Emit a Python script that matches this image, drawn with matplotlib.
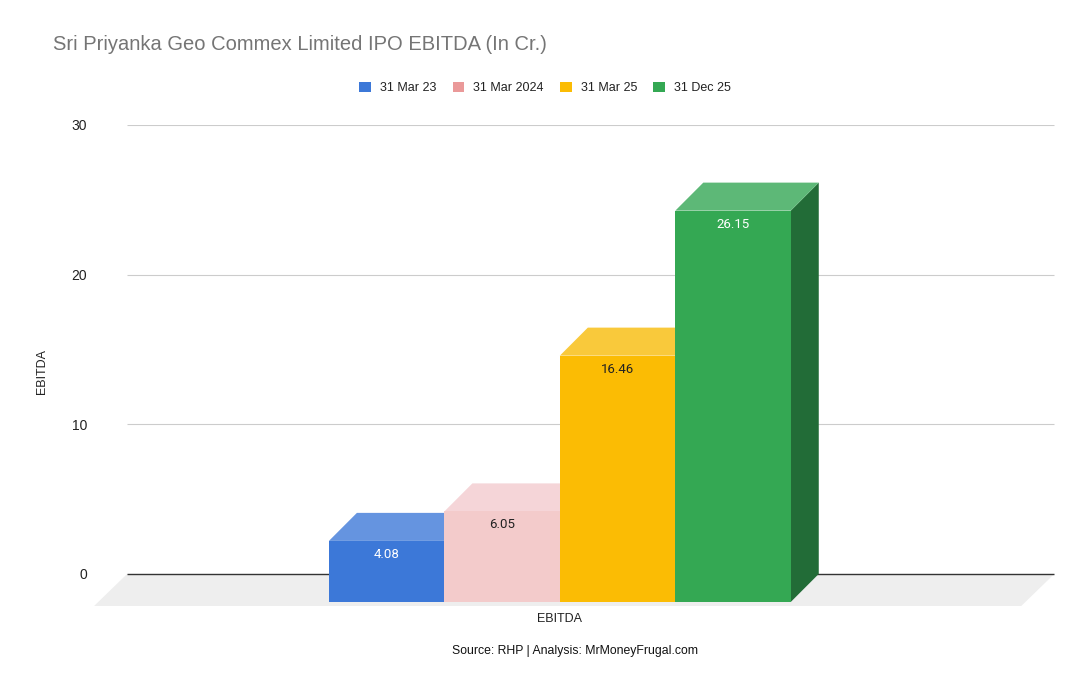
import matplotlib.pyplot as plt
from matplotlib.patches import Polygon, Patch

# data
series = ["31 Mar 23", "31 Mar 2024", "31 Mar 25", "31 Dec 25"]
values = [4.08, 6.05, 16.46, 26.15]
legend_colors = ["#3c78d8", "#ea9999", "#fbbc04", "#34a853"]
front_colors = ["#3c78d8", "#f3cbcb", "#fbbc04", "#34a853"]
top_colors = ["#6594e0", "#f5d5d8", "#f9c93b", "#5db877"]
side_colors = ["#2a5aa8", "#a88e8e", "#c99400", "#226c37"]
label_colors = ["white", "#222222", "#222222", "white"]
yticks = [0, 10, 20, 30]

plt.rcParams["font.family"] = ["Liberation Sans", "DejaVu Sans"]

fig = plt.figure(figsize=(10.9, 6.94), dpi=100)
ax = fig.add_axes([94 / 1090, (694 - 610) / 694, 961 / 1090, 485 / 694])
ax.set_xlim(-2.777, 5.546)
ax.set_ylim(-2.41, 30)

# depth offset (front face relative to back plane)
dx, dy = -0.2424, -1.873
fdx, fdy = -0.286, -2.14
x0, x1 = -2.49, 5.54

# floor
ax.add_patch(Polygon([(x0, 0), (x1, 0), (x1 + fdx, fdy), (x0 + fdx, fdy)],
                     closed=True, facecolor="#eeeeee", edgecolor="none", zorder=1))
ax.hlines([10, 20, 30], x0, x1, color="#cccccc", lw=0.8, zorder=1)
ax.hlines(0, x0, x1, color="#333333", lw=1.0, zorder=2)

for i, v in enumerate(values):
    l, r = i - 0.5, i + 0.5
    # side face
    ax.add_patch(Polygon([(r + dx, dy), (r, 0), (r, v), (r + dx, v + dy)],
                         closed=True, facecolor=side_colors[i], edgecolor="none", zorder=3 + i))
    # top face
    ax.add_patch(Polygon([(l + dx, v + dy), (r + dx, v + dy), (r, v), (l, v)],
                         closed=True, facecolor=top_colors[i], edgecolor="none", zorder=3 + i))
    # front face
    ax.bar(i + dx, v, width=1.0, bottom=dy, color=front_colors[i], zorder=3 + i,
           edgecolor="none")
    ax.text(i + dx, v + dy - 0.9, f"{v:.2f}", ha="center", va="center", fontsize=9.5,
            color=label_colors[i], family=["Roboto", "DejaVu Sans"], zorder=10)

ax.set_yticks(yticks)
ax.set_yticklabels([str(t) for t in yticks], fontsize=10, color="#222222")
ax.tick_params(axis="y", length=0, pad=5)
ax.set_xticks([])
for s in ax.spines.values():
    s.set_visible(False)

fig.text(53 / 1090, 1 - 44 / 694, "Sri Priyanka Geo Commex Limited IPO EBITDA (In Cr.)",
         fontsize=14.5, color="#757575", va="center", ha="left")
fig.text(42 / 1090, 1 - 372 / 694, "EBITDA", rotation=90, fontsize=9, color="#222222",
         va="center", ha="center")
fig.text(560 / 1090, 1 - 619 / 694, "EBITDA", fontsize=9, color="#222222",
         va="center", ha="center")
fig.text(575 / 1090, 1 - 651 / 694, "Source: RHP | Analysis: MrMoneyFrugal.com",
         fontsize=8.8, color="#111111", va="center", ha="center")

handles = [Patch(facecolor=c, edgecolor="none") for c in legend_colors]
fig.legend(handles, series, loc="center", bbox_to_anchor=(545 / 1090, 1 - 88 / 694),
           ncol=4, frameon=False, fontsize=9, handlelength=0.95, handleheight=0.95,
           handletextpad=0.7, columnspacing=1.3, labelcolor="#222222")

fig.savefig("out.png", dpi=100)
